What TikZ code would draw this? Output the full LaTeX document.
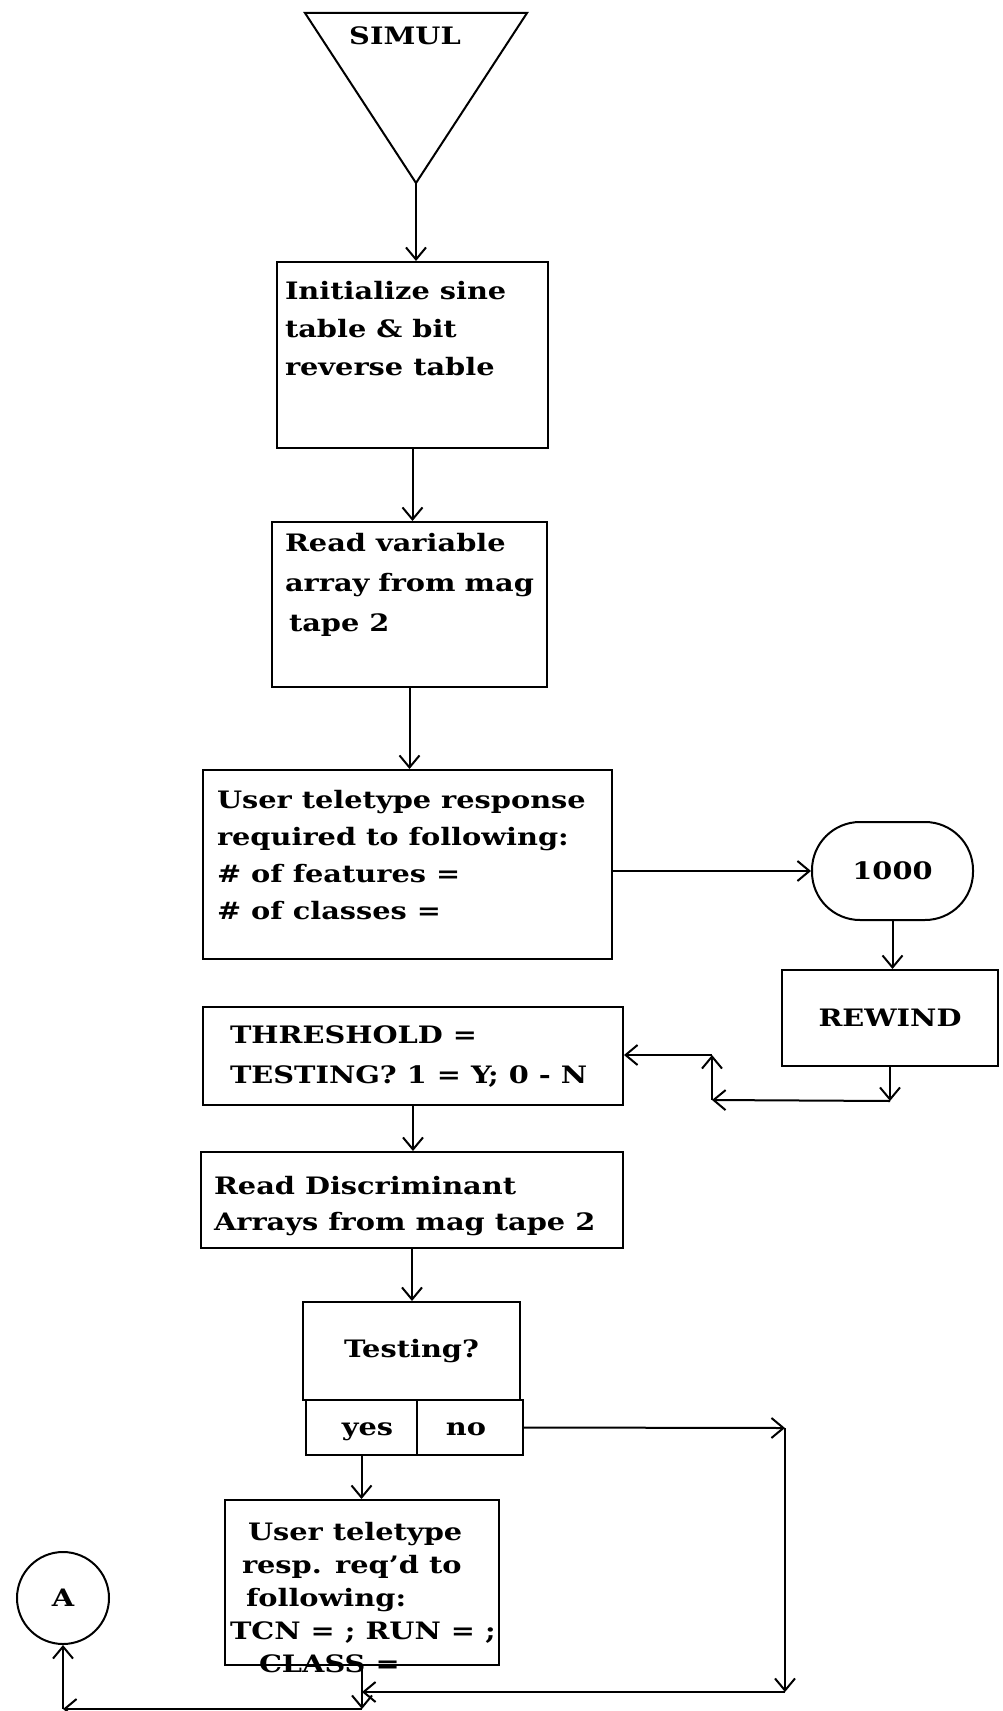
\documentclass[tikz,border=0pt]{standalone}
\usepackage{fontspec}
\setmainfont{DejaVu Serif}[FakeStretch=1.2]
\usepackage{tikz}
\usetikzlibrary{arrows.meta,positioning,calc}
\newcommand{\boxtext}[4]{\parbox[c][#2][t]{#1}{\raggedright\vspace*{#3}#4}}

\begin{document}
\begin{tikzpicture}[x=0.5pt, y=-0.5pt, line width=1pt,
  every node/.style={font=\fontsize{12}{19}\selectfont\bfseries},
  linegap/.style={font=\fontsize{12}{#1}\selectfont\bfseries},
  procbox/.style={draw, rectangle, inner ysep=0pt},
  termbox/.style={draw, rectangle, inner sep=0pt, align=center},
  cell/.style={termbox, minimum height=27.5pt, text height=1.6ex, text depth=0pt},
  arr/.style={-{Straight Barb[length=6pt,width=10pt]}}
]
\useasboundingbox (0,0) rectangle (1002,1711);

% entry triangle
\coordinate (simtip) at (416,183);
\draw (305,13) -- (527,13) -- (simtip) -- cycle;
\node (sim) at (405,36) {SIMUL};

\node[procbox, inner xsep=4pt] (init) at (412.5,355) {\boxtext{127.5pt}{93pt}{9.5pt}{Initialize sine\\table \& bit\\reverse table}};
\node[procbox, inner xsep=6.5pt, linegap=20pt] (readvar) at (409.5,604.5) {\boxtext{124.5pt}{82.5pt}{5.5pt}{Read variable\\array from mag\\\hspace*{2pt}tape 2}};
\node[procbox, inner xsep=7pt, linegap=18.5pt] (resp) at (407.5,864.5) {\boxtext{190.5pt}{94.5pt}{10pt}{User teletype response\\required to following:\\\# of features =\\\# of classes =}};
\node[termbox, rounded corners=24pt, minimum width=80.5pt, minimum height=49pt] (r1000) at (892.5,871) {1000};
\node[termbox, minimum width=108pt, minimum height=48pt] (rew) at (890,1018) {REWIND};
\node[procbox, inner xsep=13.5pt, linegap=20pt] (thr) at (413,1056) {\boxtext{183pt}{49pt}{9.5pt}{THRESHOLD =\\TESTING? 1 = Y; 0 - N}};
\node[procbox, inner xsep=6.5pt, linegap=18pt] (disc) at (412,1200) {\boxtext{198pt}{48pt}{12pt}{Read Discriminant\\Arrays from mag tape 2}};
\node[termbox, minimum width=108.5pt, minimum height=49pt] (test) at (411.5,1351) {Testing?};
\node[cell, minimum width=55.5pt] (yes) at (361.5,1427.5) {\hspace*{6pt}yes};
\node[cell, minimum width=53pt] (no) at (470,1427.5) {no\hspace*{4pt}};
\node[procbox, inner xsep=0pt, linegap=16.5pt] (usr) at (362,1582.5) {\boxtext{137pt}{82.5pt}{11pt}{\hspace*{11.5pt}User teletype\\\hspace*{8.5pt}resp. req'd to\\\hspace*{10.5pt}following:\\\hspace*{2.5pt}TCN = ; RUN = ;\\\hspace*{17pt}CLASS =}};
\node[draw, circle, minimum size=46pt, inner sep=0pt] (conA) at (63,1598) {A};

% main flow
\draw[arr] (simtip) -- (simtip |- init.north);
\draw[arr] (init.south) -- (init.south |- readvar.north);
\draw[arr] (readvar.south) -- (readvar.south |- resp.north);
\draw[arr] (r1000.west -| resp.east) -- (r1000.west);
\draw[arr] (r1000.south) -- (r1000.south |- rew.north);

% back from REWIND
\coordinate (rw1) at ($(rew.south)+(0,34)$);
\coordinate (rw2) at (712,1100);
\coordinate (rw3) at (712,1055);
\draw[arr] (rew.south) -- (rw1);
\draw[arr] (rw1) -- (rw2);
\draw[arr] (rw2) -- (rw3);
\draw[arr] (rw3) -- (rw3 -| thr.east);

\draw[arr] (thr.south) -- (thr.south |- disc.north);
\draw[arr] (disc.south) -- (disc.south |- test.north);
\draw[arr] (yes.south) -- (yes.south |- usr.north);

% no branch
\coordinate (nb1) at (785,1428);
\coordinate (nb2) at (785,1692);
\draw[arr] (no.east) -- (nb1);
\draw[arr] (nb1) -- (nb2);
\draw[arr] (nb2) -- (nb2 -| usr.south);

% on to connector A
\coordinate (ab1) at ($(usr.south)+(0,43)$);
\coordinate (ab2) at (ab1 -| conA);
\draw[arr] (usr.south) -- (ab1);
\draw[arr] (ab1) -- (ab2);
\draw[arr] (ab2) -- (conA.south);
\end{tikzpicture}
\end{document}
